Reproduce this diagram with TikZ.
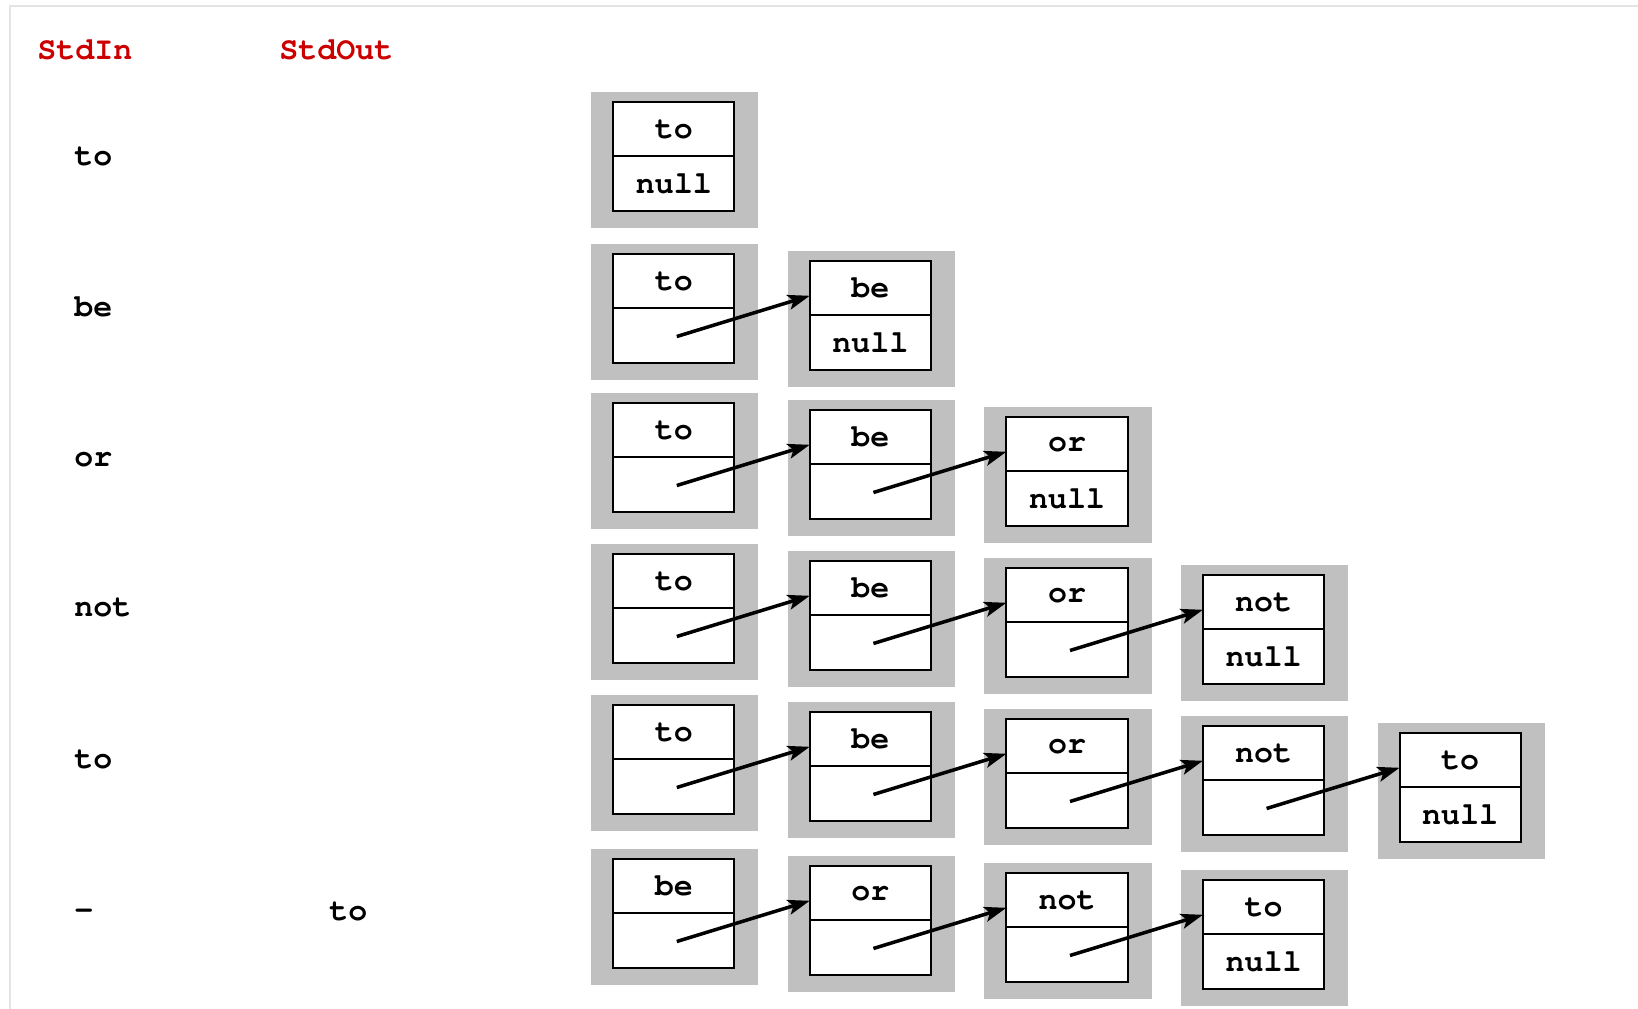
\documentclass[tikz,border=0pt]{standalone}
\usepackage{fontspec}
\usetikzlibrary{arrows.meta, positioning, calc}
\newfontfamily\codefont{TeX Gyre Cursor}
\definecolor{StdRed}{RGB}{204,0,0}
\definecolor{ShadeGray}{RGB}{192,192,192}
\definecolor{FrameGray}{RGB}{228,228,228}

\tikzset{
  codetext/.style={font=\codefont\bfseries\fontsize{9}{10}\selectfont},
  cell/.style={codetext, draw, fill=white, line width=0.6pt, outer sep=0pt,
    inner sep=0pt, minimum width=1.212cm, minimum height=0.543cm},
  shade/.style={fill=ShadeGray},
  link/.style={line width=1pt, -{Stealth[length=0.22cm,width=0.15cm,inset=0.05cm]}},
}

\begin{document}
\begin{tikzpicture}[x=0.01cm,y=-0.01cm]
  \useasboundingbox (0,0) rectangle (1638,1009);
  % frame
  \draw[FrameGray,line width=0.02cm] (10,1009) -- (10,6) -- (1638,6);
  % headings
  \node[codetext,text=StdRed,anchor=base west] (stdin) at (25,60) {StdIn};
  \node[codetext,text=StdRed,anchor=base west] (stdout) at (267,60) {StdOut};
  % input / output
  \foreach \r/\y/\s in {1/165/to, 2/316/be, 3/466/or, 4/616/not, 5/768/to, 6/919/-}{
    \node[codetext,anchor=base west] (in-\r) at (62,\y) {\s};
  }
  \node[codetext,anchor=base west] (out-6) at (317,920) {to};
  % lists
  \foreach \r/\ytop/\n/\words in {1/102/1/{to}, 2/254/2/{to,be}, 3/403/3/{to,be,or},
      4/554/4/{to,be,or,not}, 5/705/5/{to,be,or,not,to}, 6/859/4/{be,or,not,to}}{
    \foreach \w [count=\c] in \words {
      \pgfmathsetmacro\xc{673.8+196.6*(\c-1)}
      \pgfmathsetmacro\yc{\ytop+7*(\c-1)}
      \fill[shade] (\xc-82.6,\yc-10) rectangle (\xc+84.6,\yc+125.6);
      \node[cell,anchor=north] (w-\r-\c) at (\xc,\yc) {\w};
      \node[cell,below=0pt of w-\r-\c] (p-\r-\c) {\ifnum\c=\n null\fi};
      \ifnum\c>1
        \pgfmathtruncatemacro\prev{\c-1}
        \draw[link] ($(p-\r-\prev.center)+(3,1)$) --
          ($(w-\r-\c.north west)!0.64!(w-\r-\c.south west)$);
      \fi
    }
  }
\end{tikzpicture}
\end{document}
